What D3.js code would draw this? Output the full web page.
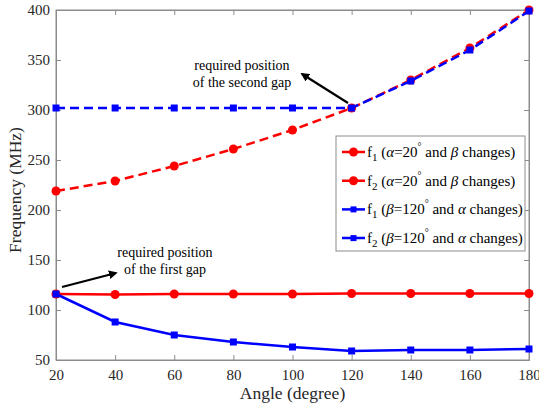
<!DOCTYPE html>
<html>
<head>
<meta charset="utf-8">
<script src="https://cdn.jsdelivr.net/npm/d3@7"></script>
</head>
<body style="margin:0;background:#fff">
<script>
const width = 539
const height = 409
const serif = "'Liberation Serif'"

const angles = [20, 40, 60, 80, 100, 120, 140, 160, 180]
const redF1 = [116, 115.5, 116, 116, 116, 116.5, 116.5, 116.5, 116.5]
const redF2 = [219, 229, 244, 261, 280, 302, 330, 362, 400]
const blueF1 = [116, 88, 75, 68, 63, 59, 60, 60, 61]
const blueF2 = [302, 302, 302, 302, 302, 302, 329, 360, 399]
const xTicks = [20, 40, 60, 80, 100, 120, 140, 160, 180]
const yTicks = [50, 100, 150, 200, 250, 300, 350, 400]

const series = [
  {values: redF1, color: "#ff0000", dash: null, marker: "circle", sub: "1", param: "α", other: "β", deg: "20"},
  {values: redF2, color: "#ff0000", dash: "9,5", marker: "circle", sub: "2", param: "α", other: "β", deg: "20"},
  {values: blueF1, color: "#0000ff", dash: null, marker: "square", sub: "1", param: "β", other: "α", deg: "120"},
  {values: blueF2, color: "#0000ff", dash: "9,5", marker: "square", sub: "2", param: "β", other: "α", deg: "120"}
]

const svg = d3.select("body").append("svg")
    .attr("width", width)
    .attr("height", height)

const x = d3.scaleLinear().domain([20, 180]).range([56, 529])
const y = d3.scaleLinear().domain([50, 400]).range([360, 10])

function label(sel, size) {
  return sel.style("font-family", serif).style("font-size", size + "px")
}

// frame
svg.append("rect")
    .attr("x", x(20)).attr("y", y(400))
    .attr("width", x(180) - x(20)).attr("height", y(50) - y(400))
    .attr("fill", "none").attr("stroke", "#8c8c8c").attr("stroke-width", 1)

const tick = 5
const gx = svg.append("g").attr("transform", `translate(0,${y(50)})`)
    .call(d3.axisBottom(x).tickValues(xTicks).tickSize(-tick).tickPadding(9))
const gxt = svg.append("g").attr("transform", `translate(0,${y(400)})`)
    .call(d3.axisTop(x).tickValues(xTicks).tickSize(-tick).tickFormat(""))
const gy = svg.append("g").attr("transform", `translate(${x(20)},0)`)
    .call(d3.axisLeft(y).tickValues(yTicks).tickSize(-tick).tickPadding(6))
const gyr = svg.append("g").attr("transform", `translate(${x(180)},0)`)
    .call(d3.axisRight(y).tickValues(yTicks).tickSize(-tick).tickFormat(""))

;[gx, gxt, gy, gyr].forEach(g => {
  g.attr("font-family", null).attr("font-size", null)
  g.select(".domain").attr("stroke", "#8c8c8c")
  g.selectAll(".tick line").attr("stroke", "#8c8c8c")
  label(g.selectAll(".tick text"), 15).attr("fill", "#262626")
})

label(svg.append("text"), 17.5)
    .attr("x", x(100)).attr("y", 399)
    .attr("text-anchor", "middle").attr("fill", "#262626")
    .text("Angle (degree)")

label(svg.append("text"), 17.5)
    .attr("transform", `translate(21,${y(220)}) rotate(-90)`)
    .attr("text-anchor", "middle").attr("fill", "#262626")
    .text("Frequency (MHz)")

const line = d3.line().x((d, i) => x(angles[i])).y(d => y(d))

function drawMarker(g, type, color, cx, cy, size) {
  if (type === "circle") {
    g.append("circle").attr("cx", cx).attr("cy", cy).attr("r", size / 2 + 0.5).attr("fill", color)
  } else {
    g.append("rect").attr("x", cx - size / 2).attr("y", cy - size / 2)
        .attr("width", size).attr("height", size).attr("fill", color)
  }
}

// red f2 first, then blue f2 over it, then the f1 lines
const order = [1, 3, 0, 2]
order.forEach(k => {
  const s = series[k]
  const g = svg.append("g")
  g.append("path")
      .attr("d", line(s.values))
      .attr("fill", "none")
      .attr("stroke", s.color)
      .attr("stroke-width", 2.5)
      .attr("stroke-dasharray", s.dash)
  s.values.forEach((v, i) => drawMarker(g, s.marker, s.color, x(angles[i]), y(v), s.marker === "circle" ? 8 : 7))
})

// arrows
svg.append("defs").append("marker")
    .attr("id", "ah").attr("viewBox", "0 0 10 10")
    .attr("refX", 8).attr("refY", 5)
    .attr("markerWidth", 4).attr("markerHeight", 4)
    .attr("orient", "auto")
  .append("path").attr("d", "M0,0 L10,5 L0,10 z").attr("fill", "#000")

svg.append("line")
    .attr("x1", 348).attr("y1", 103).attr("x2", 302).attr("y2", 74)
    .attr("stroke", "#000").attr("stroke-width", 2.2).attr("marker-end", "url(#ah)")
svg.append("line")
    .attr("x1", 62).attr("y1", 287).attr("x2", 116).attr("y2", 273)
    .attr("stroke", "#000").attr("stroke-width", 2.2).attr("marker-end", "url(#ah)")

const notes = [
  {cx: 242, cy: 70, lines: ["required position", "of the second gap"]},
  {cx: 165, cy: 257, lines: ["required position", "of the first gap"]}
]
notes.forEach(n => {
  n.lines.forEach((t, i) => {
    label(svg.append("text"), 14)
        .attr("x", n.cx).attr("y", n.cy + i * 17)
        .attr("text-anchor", "middle").attr("fill", "#000")
        .text(t)
  })
})

// legend
const lg = svg.append("g")
lg.append("rect")
    .attr("x", 336).attr("y", 136).attr("width", 189).attr("height", 115)
    .attr("fill", "#fff").attr("stroke", "#8c8c8c").attr("stroke-width", 1)
series.forEach((s, i) => {
  const ly = 152 + i * 28.7
  lg.append("line")
      .attr("x1", 342).attr("x2", 365).attr("y1", ly).attr("y2", ly)
      .attr("stroke", s.color).attr("stroke-width", 2.5)
      .attr("stroke-dasharray", s.dash)
  drawMarker(lg, s.marker, s.color, 353.5, ly, s.marker === "circle" ? 8 : 6)
  const t = label(lg.append("text"), 15).attr("x", 367).attr("y", ly + 5).attr("fill", "#000")
  t.append("tspan").text("f")
  t.append("tspan").style("font-size", "11px").attr("dy", 4).text(s.sub)
  t.append("tspan").attr("dy", -4).text(" (")
  t.append("tspan").style("font-style", "italic").text(s.param)
  t.append("tspan").text("=" + s.deg)
  t.append("tspan").style("font-size", "10px").attr("dy", -7).text("°")
  t.append("tspan").attr("dy", 7).text(" and ")
  t.append("tspan").style("font-style", "italic").text(s.other)
  t.append("tspan").text(" changes)")
})
</script>
</body>
</html>
